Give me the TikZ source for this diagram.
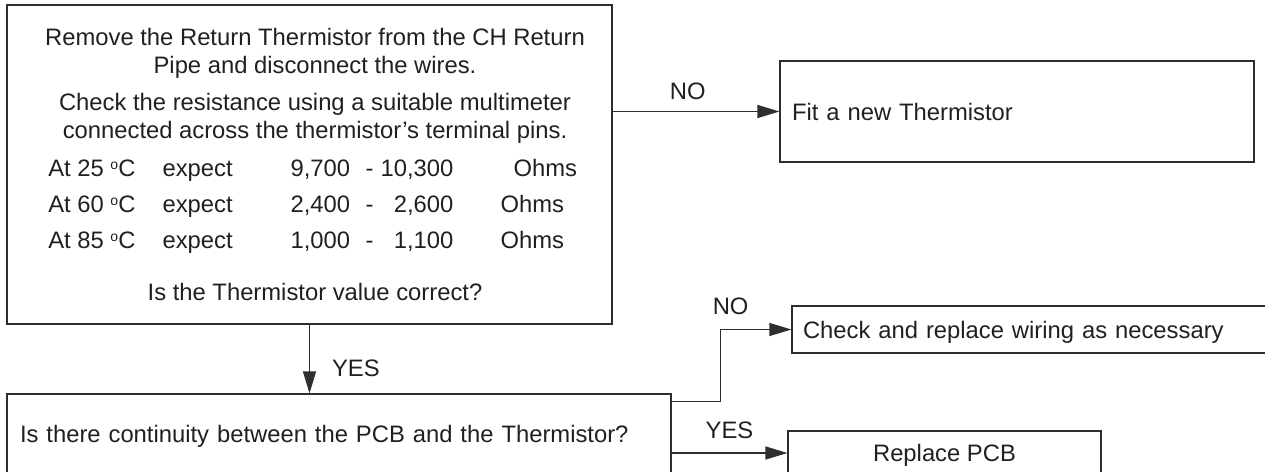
\documentclass[tikz,border=0pt]{standalone}
\usepackage{fontspec}
\setmainfont{Liberation Sans}
\usetikzlibrary{arrows.meta, positioning}

\definecolor{ink}{HTML}{231F20}
\definecolor{edge}{HTML}{2E2E2E}

\newcommand{\dego}{\raisebox{7pt}{\fontsize{14}{14}\selectfont o}}

\begin{document}
\begin{tikzpicture}[
    x=1pt, y=-1pt,
    >={Triangle[length=22pt,width=13pt]},
    line width=1.2pt,
    font=\fontsize{23.8}{28}\selectfont,
    text=ink,
    box/.style={
        draw=edge,
        line width=1.2pt,
        inner ysep=0pt,
        text height=17pt,
        text depth=0pt
    },
    txt/.style={
        inner sep=0pt,
        text height=17pt,
        text depth=0pt
    },
    lab/.style={
        inner sep=0pt,
        text height=17pt,
        text depth=0pt
    },
    conn/.style={
        draw=edge,
        ->
    }
]

\useasboundingbox (0,0) rectangle (1265,471);
\clip (0,0) rectangle (1265,471);

% =========================================================
% Boxes
% =========================================================
\node[box, minimum width=605pt, minimum height=319pt] (test) at (309.5,164.5) {};

\node[box, text width=450pt, inner xsep=12pt, align=left,
      minimum height=101pt] (fit) at (1017,111.5) {Fit a new Thermistor};

\node[box, text width=638pt, inner xsep=13pt, align=left,
      minimum height=80pt] (cont) at (339,434)
    {Is there continuity between the PCB and the Thermistor?};

\node[box, text width=466pt, inner xsep=11pt, align=left,
      minimum height=47pt] (wire) at (1036,329.5)
    {Check and replace wiring as necessary};

\node[box, minimum width=313pt, minimum height=44pt] (pcb) at (944.5,453) {Replace PCB};

% =========================================================
% Text of the first check
% =========================================================
\node[txt] (l1) at (315,37)  {Remove the Return Thermistor from the CH Return};
\node[txt] (l2) at (315,65)  {Pipe and disconnect the wires.};
\node[txt] (l3) at (315,102) {Check the resistance using a suitable multimeter};
\node[txt] (l4) at (315,130) {connected across the thermistor's terminal pins.};

% resistance table
\foreach \r/\yy/\tc/\lo/\hi/\ox in {1/168/25/{9,700}/{10,300}/513,
                                    2/204/60/{2,400}/{2,600}/500,
                                    3/240/85/{1,000}/{1,100}/500}{
    \node[txt, anchor=west] (at\r) at (47.7,\yy) {At \tc\ \dego C};
    \node[txt, anchor=west] (ex\r) at (162,\yy)  {expect};
    \node[txt, anchor=west] (lo\r) at (290,\yy)  {\lo};
    \node[txt]              (da\r) at (369.5,\yy) {-};
    \node[txt, anchor=east] (hi\r) at (454,\yy)  {\hi};
    \node[txt, anchor=west] (oh\r) at (\ox,\yy)  {Ohms};
}

\node[txt] (q1) at (315,292) {Is the Thermistor value correct?};

% =========================================================
% Connectors
% =========================================================
\draw[conn] (fit.west -| test.east) --
    node[lab, pos=0.45, above=11pt] {NO} (fit.west);

\draw[conn] (test.south) --
    node[lab, pos=0.63, right=22pt] {YES} (test.south |- cont.north);

\draw[conn] ([yshift=-8pt]cont.north east) -- ++(49,0) |-
    node[lab, pos=0.5, above=14pt, xshift=10pt] {NO} (wire.west);

\draw[conn] (cont.east |- pcb.west) --
    node[lab, above=13.5pt] {YES} (pcb.west);

\end{tikzpicture}
\end{document}
